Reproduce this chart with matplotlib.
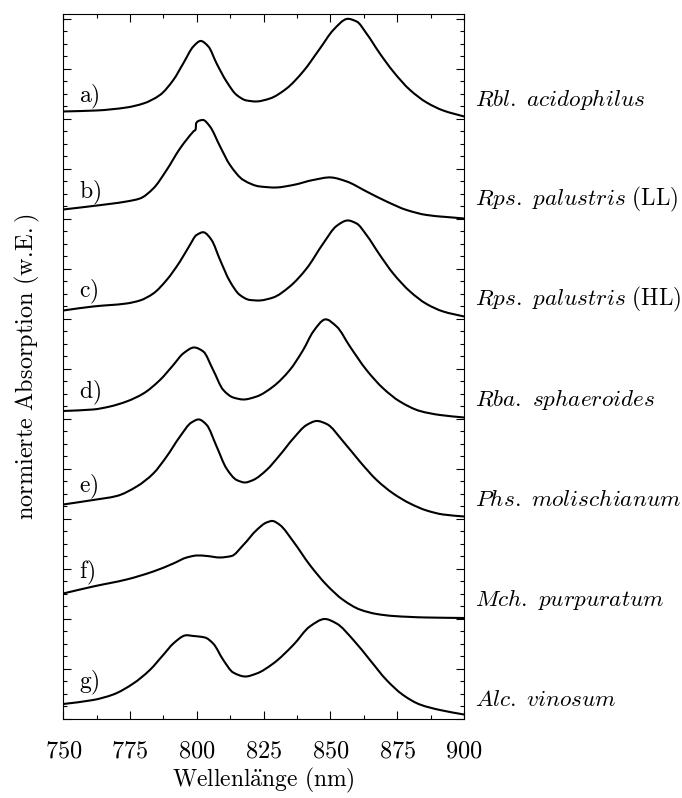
import matplotlib
matplotlib.use("Agg")
import matplotlib.pyplot as plt
from matplotlib.ticker import MultipleLocator, FuncFormatter, NullFormatter
from matplotlib.transforms import blended_transform_factory
from matplotlib.path import Path
from matplotlib.patches import PathPatch

plt.rcParams['mathtext.fontset'] = 'cm'
plt.rcParams['font.family'] = ['DejaVu Serif']

# ---- data (wavelength in nm, normalized absorption) ----
wl_a = [750.0, 762.5, 773.7, 780.0, 786.2, 791.2, 794.9, 798.7, 801.4, 804.3, 807.4, 811.1,
        814.9, 818.6, 822.4, 827.4, 833.6, 839.8, 846.1, 851.1, 856.1, 859.8, 863.5, 868.5,
        873.5, 879.8, 886.0, 892.2, 900.0]
ab_a = [0.15, 0.17, 0.23, 0.31, 0.48, 0.78, 1.11, 1.45, 1.56, 1.45, 1.11, 0.75,
        0.48, 0.37, 0.35, 0.41, 0.61, 0.95, 1.41, 1.78, 2.00, 1.95, 1.71, 1.31,
        0.95, 0.58, 0.33, 0.17, 0.05]

wl_b = [750.0, 761.2, 773.7, 778.7, 783.7, 788.7, 793.7, 798.7, 799.6, 799.7, 801.2, 802.4,
        804.9, 808.7, 812.4, 817.4, 823.6, 829.9, 836.1, 843.6, 850.4, 856.1, 863.5, 871.0,
        878.5, 886.0, 900.0]
ab_b = [0.19, 0.26, 0.35, 0.41, 0.61, 0.98, 1.41, 1.75, 1.80, 1.91, 1.97, 1.98,
        1.85, 1.45, 1.08, 0.78, 0.65, 0.63, 0.68, 0.78, 0.83, 0.75, 0.55, 0.35,
        0.18, 0.08, 0.01]

wl_c = [750.0, 761.2, 773.7, 778.7, 783.7, 788.7, 793.7, 797.4, 799.9, 802.8, 805.5, 808.7,
        812.4, 816.1, 819.9, 823.6, 828.6, 834.8, 841.1, 847.3, 852.3, 856.3, 859.8, 863.5,
        868.5, 873.5, 879.8, 886.0, 892.2, 900.0]
ab_c = [0.17, 0.25, 0.31, 0.37, 0.51, 0.78, 1.15, 1.48, 1.68, 1.73, 1.58, 1.18,
        0.75, 0.48, 0.38, 0.37, 0.43, 0.65, 1.01, 1.51, 1.86, 1.97, 1.91, 1.68,
        1.28, 0.91, 0.55, 0.30, 0.15, 0.05]

wl_d = [750.0, 761.2, 767.5, 773.7, 780.0, 786.2, 791.2, 794.9, 799.0, 802.4, 806.1, 809.9,
        813.6, 817.4, 822.4, 828.6, 834.8, 839.8, 843.6, 847.9, 852.3, 857.3, 863.5, 869.8,
        876.0, 883.5, 891.0, 900.0]
ab_d = [0.16, 0.19, 0.25, 0.35, 0.51, 0.78, 1.08, 1.31, 1.43, 1.35, 0.98, 0.58,
        0.43, 0.39, 0.45, 0.65, 0.98, 1.38, 1.75, 1.99, 1.85, 1.45, 0.98, 0.61,
        0.35, 0.16, 0.08, 0.03]

wl_e = [750.0, 761.2, 770.0, 777.5, 783.7, 788.7, 793.7, 798.0, 800.9, 803.7, 807.4, 811.1,
        814.9, 818.0, 821.1, 826.1, 831.1, 836.1, 841.1, 844.8, 848.6, 854.8, 861.0, 867.3,
        873.5, 879.8, 886.0, 892.2, 900.0]
ab_e = [0.29, 0.38, 0.46, 0.65, 0.91, 1.25, 1.65, 1.93, 1.99, 1.88, 1.45, 1.01,
        0.78, 0.73, 0.78, 0.98, 1.28, 1.61, 1.88, 1.96, 1.90, 1.55, 1.15, 0.78,
        0.51, 0.31, 0.17, 0.09, 0.05]

wl_f = [750.0, 761.2, 773.7, 783.7, 791.2, 796.2, 799.9, 803.7, 808.7, 813.0, 817.4, 822.4,
        826.1, 828.4, 831.1, 836.1, 842.3, 848.6, 854.8, 861.0, 867.3, 873.5, 886.0, 900.0]
ab_f = [0.51, 0.65, 0.79, 0.95, 1.11, 1.23, 1.27, 1.26, 1.23, 1.26, 1.48, 1.78,
        1.93, 1.96, 1.88, 1.55, 1.08, 0.68, 0.38, 0.19, 0.10, 0.06, 0.03, 0.02]

wl_g = [750.0, 761.2, 768.7, 776.2, 782.4, 787.4, 791.2, 795.5, 798.7, 803.0, 806.1, 809.9,
        813.6, 818.0, 822.4, 828.6, 836.1, 842.3, 847.9, 852.3, 858.6, 864.8, 871.0, 877.2,
        883.5, 891.0, 900.0]
ab_g = [0.30, 0.38, 0.49, 0.71, 0.98, 1.28, 1.51, 1.67, 1.66, 1.63, 1.51, 1.18,
        0.93, 0.85, 0.91, 1.11, 1.48, 1.85, 2.00, 1.91, 1.58, 1.18, 0.78, 0.48,
        0.29, 0.18, 0.09]

offsets = [12, 10, 8, 6, 4, 2, 0]
letters = ['a)', 'b)', 'c)', 'd)', 'e)', 'f)', 'g)']
letter_dy = [0.44, 0.52, 0.54, 0.52, 0.64, 0.92, 0.72]
species = [r'$\mathit{Rbl.\ acidophilus}$',
           r'$\mathit{Rps.\ palustris}\ \mathrm{(LL)}$',
           r'$\mathit{Rps.\ palustris}\ \mathrm{(HL)}$',
           r'$\mathit{Rba.\ sphaeroides}$',
           r'$\mathit{Phs.\ molischianum}$',
           r'$\mathit{Mch.\ purpuratum}$',
           r'$\mathit{Alc.\ vinosum}$']
xticks = [750, 775, 800, 825, 850, 875, 900]

wls = [wl_a, wl_b, wl_c, wl_d, wl_e, wl_f, wl_g]
abs_ = [ab_a, ab_b, ab_c, ab_d, ab_e, ab_f, ab_g]


def smooth_path(xs, ys):
    """Cubic Bezier path through the read points (rounded extrema,
    monotone tangents on rising/falling flanks)."""
    n = len(xs)
    h = [xs[i + 1] - xs[i] for i in range(n - 1)]
    s = [(ys[i + 1] - ys[i]) / h[i] for i in range(n - 1)]
    m = [s[0]]
    for i in range(1, n - 1):
        s0, s1, h0, h1 = s[i - 1], s[i], h[i - 1], h[i]
        if s0 * s1 <= 0:
            m.append((s0 * h1 + s1 * h0) / (h0 + h1))
        else:
            w1 = 2 * h1 + h0
            w2 = h1 + 2 * h0
            m.append((w1 + w2) / (w1 / s0 + w2 / s1))
    m.append(s[-1])
    verts = [(xs[0], ys[0])]
    codes = [Path.MOVETO]
    for i in range(n - 1):
        verts += [(xs[i] + h[i] / 3, ys[i] + m[i] * h[i] / 3),
                  (xs[i + 1] - h[i] / 3, ys[i + 1] - m[i + 1] * h[i] / 3),
                  (xs[i + 1], ys[i + 1])]
        codes += [Path.CURVE4] * 3
    return Path(verts, codes)


fig = plt.figure(figsize=(6.82, 7.98), dpi=100)
ax = fig.add_axes([0.0928, 0.099, 0.5875, 0.8835])

for wl, ab, off in zip(wls, abs_, offsets):
    p = smooth_path(wl, [v + off for v in ab])
    ax.add_patch(PathPatch(p, facecolor='none', edgecolor='black', lw=1.5,
                           joinstyle='round', capstyle='round'))

for lab, off, dy in zip(letters, offsets, letter_dy):
    ax.text(756.0, off + dy, r'$\mathrm{' + lab + '}$', fontsize=17, va='center', ha='left')

tr = blended_transform_factory(ax.transAxes, ax.transData)
for sp, off in zip(species, offsets):
    ax.text(1.027, off + 0.38, sp, transform=tr, fontsize=16.7, va='center', ha='left')

ax.set_xlim(750, 900)
ax.set_ylim(0, 14.1)
ax.set_xticks(xticks)
ax.xaxis.set_minor_locator(MultipleLocator(12.5))
ax.xaxis.set_major_formatter(FuncFormatter(lambda v, p: r'$%d$' % v))
ax.yaxis.set_major_locator(MultipleLocator(1))
ax.yaxis.set_minor_locator(MultipleLocator(0.25))
ax.yaxis.set_major_formatter(NullFormatter())
ax.tick_params(which='both', direction='in', top=True, right=True, width=0.8)
ax.tick_params(which='major', length=6)
ax.tick_params(which='minor', length=3)
ax.tick_params(axis='x', labelsize=17.5, pad=15)
for s in ax.spines.values():
    s.set_linewidth(0.8)

ax.set_xlabel(r'$\mathrm{Wellenl\ddot{a}nge\ (nm)}$', fontsize=17, labelpad=2)
ax.set_ylabel(r'$\mathrm{normierte\ Absorption\ (w.\!E.)}$', fontsize=17.5, labelpad=12)

fig.savefig('out.png', dpi=100)
